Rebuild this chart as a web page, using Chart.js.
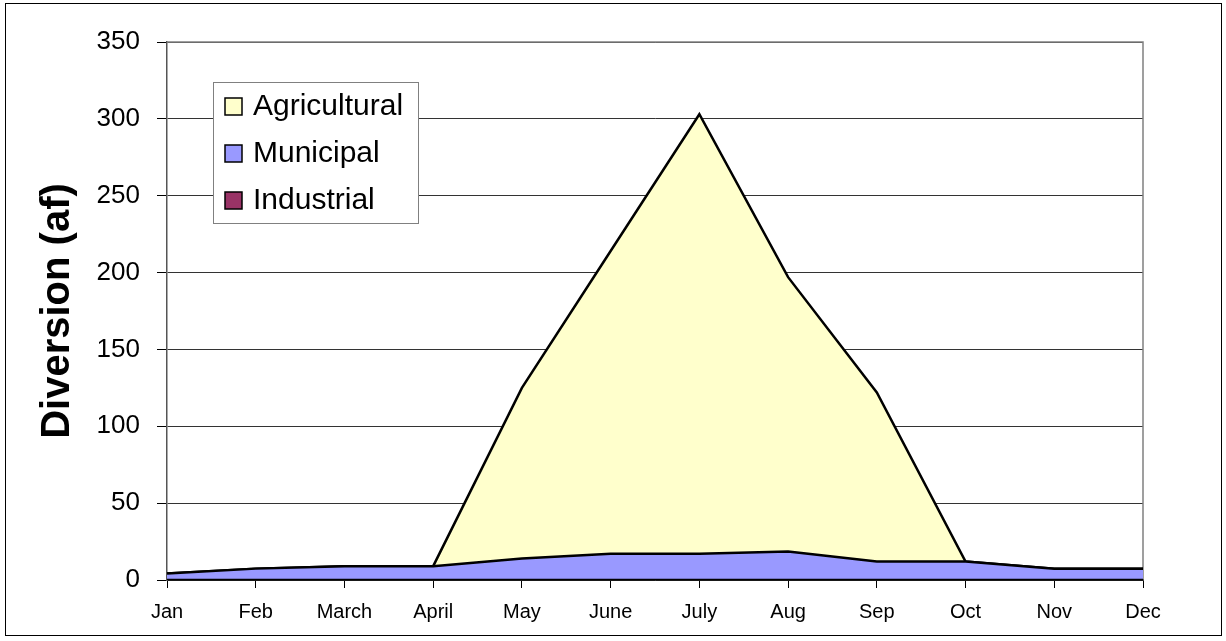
<!DOCTYPE html>
<html>
<head>
<meta charset="utf-8">
<style>
  html, body { margin: 0; padding: 0; background: #fff; }
  #wrap { width: 1226px; height: 641px; position: relative; }
  canvas { display: block; }
</style>
<script src="https://cdn.jsdelivr.net/npm/chart.js@4.4.1/dist/chart.umd.min.js"></script>
</head>
<body>
<div id="wrap"><canvas id="c" width="1226" height="641"></canvas></div>
<script>
// Monthly diversions (acre-feet), stacked: industrial at the bottom, then municipal, then agricultural
const months = ['Jan', 'Feb', 'March', 'April', 'May', 'June', 'July', 'Aug', 'Sep', 'Oct', 'Nov', 'Dec'];
const industrial = [0, 0, 0, 0, 0, 0, 0, 0, 0, 0, 0, 0];
const municipal = [4.2, 7.4, 9, 9, 14, 17, 17, 18.5, 12, 12, 7.4, 7.4];
const agricultural = [0, 0, 0, 0, 111, 197, 286, 178.5, 110, 0, 0, 0];
const yTicks = [0, 50, 100, 150, 200, 250, 300, 350];

const FONT = '"Liberation Sans", Arial, Helvetica, sans-serif';

// Legend drawn inside the plot area, listing series top-of-stack first
const insideLegend = {
  id: 'insideLegend',
  afterDraw(chart) {
    const ctx = chart.ctx;
    const x0 = 213, y0 = 82, w = 205, h = 141;
    ctx.save();
    ctx.fillStyle = '#fff';
    ctx.fillRect(x0, y0, w, h);
    ctx.strokeStyle = '#808080';
    ctx.lineWidth = 1;
    ctx.strokeRect(x0 + 0.5, y0 + 0.5, w, h);
    const items = chart.data.datasets.slice().reverse();
    ctx.font = '30px ' + FONT;
    ctx.textBaseline = 'middle';
    items.forEach((ds, i) => {
      const cy = 106 + i * 47;
      ctx.fillStyle = ds.backgroundColor;
      ctx.fillRect(225, cy - 8, 17, 17);
      ctx.strokeStyle = '#000';
      ctx.lineWidth = 1.5;
      ctx.strokeRect(225, cy - 8, 17, 17);
      ctx.fillStyle = '#000';
      ctx.fillText(ds.label, 253, cy + 1);
    });
    ctx.restore();
  }
};

// Plot-area frame and outer chart border
const frames = {
  id: 'frames',
  beforeDatasetsDraw(chart) {
    const a = chart.chartArea;
    const ctx = chart.ctx;
    ctx.save();
    ctx.strokeStyle = '#808080';
    ctx.lineWidth = 1.5;
    ctx.beginPath();
    ctx.moveTo(a.left, a.top);
    ctx.lineTo(a.right, a.top);
    ctx.lineTo(a.right, a.bottom);
    ctx.stroke();
    ctx.restore();
  },
  afterDraw(chart) {
    const ctx = chart.ctx;
    ctx.save();
    ctx.strokeStyle = '#000';
    ctx.lineWidth = 1;
    ctx.strokeRect(5.5, 3.5, 1216, 632);
    ctx.restore();
  }
};

const common = { pointRadius: 0, borderColor: '#000', borderWidth: 2.5, tension: 0 };

new Chart(document.getElementById('c'), {
  type: 'line',
  data: {
    labels: months,
    datasets: [
      Object.assign({ label: 'Industrial', data: industrial, backgroundColor: '#993366', fill: 'origin' }, common),
      Object.assign({ label: 'Municipal', data: municipal, backgroundColor: '#9999FF', fill: '-1' }, common),
      Object.assign({ label: 'Agricultural', data: agricultural, backgroundColor: '#FFFFCC', fill: '-1' }, common)
    ]
  },
  options: {
    responsive: false,
    animation: false,
    events: [],
    layout: { padding: { top: 42, right: 83, bottom: 0, left: 0 } },
    plugins: { legend: { display: false }, tooltip: { enabled: false } },
    scales: {
      x: {
        offset: false,
        grid: { drawOnChartArea: false, drawTicks: true, tickLength: 8, tickColor: '#000', tickWidth: 1 },
        border: { display: true, color: '#000', width: 1.5 },
        ticks: { color: '#000', font: { family: FONT, size: 20 }, padding: 12, maxRotation: 0, autoSkip: false },
        afterFit(scale) { scale.height = 61; }
      },
      y: {
        stacked: true,
        min: 0,
        max: 350,
        afterBuildTicks(scale) { scale.ticks = yTicks.map(v => ({ value: v })); },
        grid: { color: '#333', lineWidth: 1, drawTicks: true, tickLength: 10, tickColor: '#000' },
        border: { display: true, color: '#555', width: 1.5 },
        ticks: { color: '#000', font: { family: FONT, size: 26 }, padding: 17 },
        title: {
          display: true,
          text: 'Diversion (af)',
          color: '#000',
          font: { family: FONT, size: 40, weight: 'bold' },
          padding: { top: 34, bottom: 0 }
        },
        afterFit(scale) { scale.width = 167; }
      }
    }
  },
  plugins: [frames, insideLegend]
});
</script>
</body>
</html>
